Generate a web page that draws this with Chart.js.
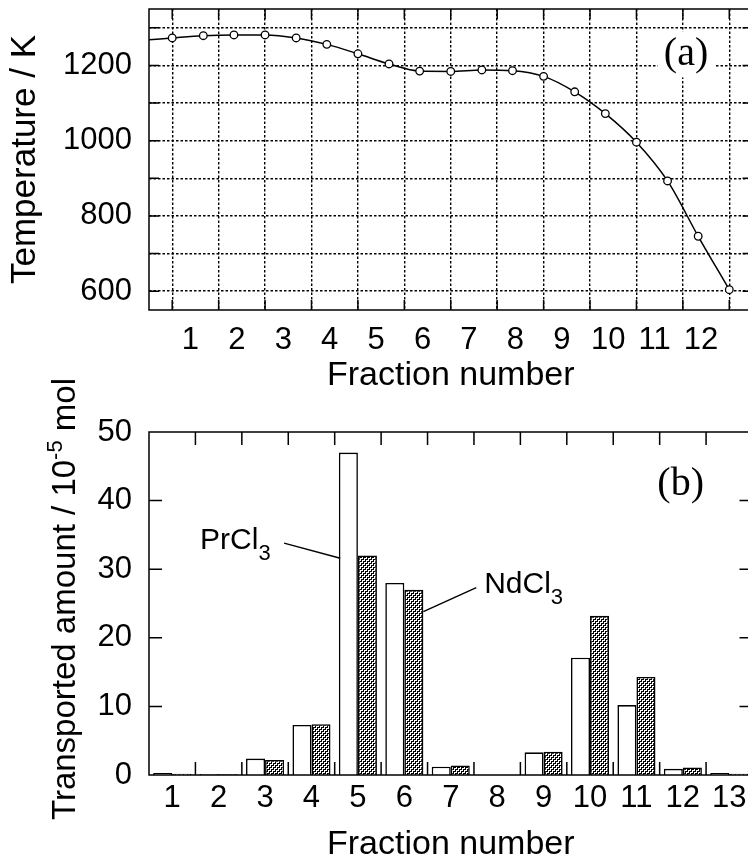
<!DOCTYPE html>
<html>
<head>
<meta charset="utf-8">
<script src="https://cdn.jsdelivr.net/npm/chart.js@4.4.1/dist/chart.umd.min.js"></script>
<style>
  html, body { margin: 0; padding: 0; background: #fff; overflow: hidden; width: 748px; height: 863px; }
  .panel { position: absolute; left: 0; }
</style>
</head>
<body>
<div class="panel" style="top:0"><canvas id="temp-chart" width="760" height="400"></canvas></div>
<div class="panel" style="top:360px"><canvas id="amount-chart" width="760" height="503"></canvas></div>
<script>
// (a) temperature profile, x in fraction-number units
const tempPos = [-0.5, 0, 0.67, 1.33, 2, 2.67, 3.33, 4, 4.67, 5.33, 6, 6.67, 7.33, 8, 8.67, 9.33, 10, 10.67, 11.33, 12];
const tempK = [1268, 1273, 1279, 1281, 1281, 1273, 1256, 1231, 1204, 1185, 1184, 1188, 1186, 1171, 1130, 1072, 996, 893, 746, 604];
const tempLabels = [600, 800, 1000, 1200];

// (b) transported amounts per fraction, 10^-5 mol
const fractions = ['1', '2', '3', '4', '5', '6', '7', '8', '9', '10', '11', '12', '13'];
const prcl3 = [0.3, 0.15, 2.4, 7.3, 47.0, 28.0, 1.2, 0, 3.3, 17.1, 10.2, 0.9, 0.3];
const ndcl3 = [0.2, 0.1, 2.2, 7.4, 32.0, 27.0, 1.4, 0, 3.4, 23.2, 14.3, 1.1, 0.2];

const SANS = "'Liberation Sans', Arial, Helvetica, sans-serif";
const SERIF = "'Liberation Serif', 'Times New Roman', serif";

function stipple() {
  const c = document.createElement('canvas');
  c.width = 4; c.height = 4;
  const g = c.getContext('2d');
  g.fillStyle = '#fff';
  g.fillRect(0, 0, 4, 4);
  g.fillStyle = '#000';
  for (let y = 0; y < 4; y++) {
    for (let x = 0; x < 4; x++) {
      if (((x >> 1) + (y >> 1)) % 2 === 0) g.fillRect(x, y, 1, 1);
    }
  }
  g.fillStyle = '#fff';
  g.fillRect(0, 0, 1, 1);
  g.fillRect(2, 2, 1, 1);
  g.fillStyle = '#000';
  g.fillRect(3, 1, 1, 1);
  g.fillRect(1, 3, 1, 1);
  return g.createPattern(c, 'repeat');
}

// box round the plot plus short inward tick marks
const frame = {
  id: 'frame',
  afterDatasetsDraw(chart, args, opts) {
    const { ctx, chartArea: a, scales } = chart;
    ctx.save();
    ctx.strokeStyle = '#000';
    ctx.lineWidth = 1.5;
    ctx.setLineDash([]);
    ctx.beginPath();
    opts.xMarks.forEach(v => {
      const x = scales.x.getPixelForValue(v);
      ctx.moveTo(x, a.top); ctx.lineTo(x, a.top + opts.len);
      ctx.moveTo(x, a.bottom); ctx.lineTo(x, a.bottom - opts.len);
    });
    opts.yMarks.forEach(v => {
      const y = scales.y.getPixelForValue(v);
      ctx.moveTo(a.left, y); ctx.lineTo(a.left + opts.len, y);
      ctx.moveTo(a.right, y); ctx.lineTo(a.right - opts.len, y);
    });
    ctx.stroke();
    ctx.strokeRect(a.left, a.top, a.right - a.left, a.bottom - a.top);
    ctx.restore();
  }
};

// panel letter, and labels with a subscript
const notes = {
  id: 'notes',
  afterDraw(chart, args, opts) {
    const { ctx, scales } = chart;
    ctx.save();
    if (opts.panel) {
      const p = opts.panel;
      const x = scales.x.getPixelForValue(p.at[0]);
      const y = scales.y.getPixelForValue(p.at[1]);
      ctx.font = '40px ' + SERIF;
      const w = ctx.measureText(p.text).width;
      if (p.clear) {
        ctx.fillStyle = '#fff';
        ctx.fillRect(x - 6, y - 34, w + 12, 46);
      }
      ctx.fillStyle = '#000';
      ctx.textBaseline = 'alphabetic';
      ctx.fillText(p.text, x, y);
    }
    (opts.labels || []).forEach(l => {
      const x = scales.x.getPixelForValue(l.at[0]);
      const y = scales.y.getPixelForValue(l.at[1]);
      ctx.fillStyle = '#000';
      ctx.font = '30px ' + SANS;
      ctx.fillText(l.text, x, y);
      const w = ctx.measureText(l.text).width;
      ctx.font = '22px ' + SANS;
      ctx.fillText(l.sub, x + w, y + 11);
      ctx.beginPath();
      ctx.lineWidth = 1.4;
      ctx.strokeStyle = '#000';
      ctx.moveTo(scales.x.getPixelForValue(l.line[0][0]), scales.y.getPixelForValue(l.line[0][1]));
      ctx.lineTo(scales.x.getPixelForValue(l.line[1][0]), scales.y.getPixelForValue(l.line[1][1]));
      ctx.stroke();
    });
    if (opts.yTitle) {
      // rotated axis title with a superscript
      const t = opts.yTitle;
      ctx.translate(t.x, t.y);
      ctx.rotate(-Math.PI / 2);
      ctx.fillStyle = '#000';
      ctx.textBaseline = 'alphabetic';
      ctx.font = t.size + 'px ' + SANS;
      const w1 = ctx.measureText(t.before).width;
      const w3 = ctx.measureText(t.after).width;
      ctx.font = t.supSize + 'px ' + SANS;
      const w2 = ctx.measureText(t.sup).width;
      let x = -(w1 + w2 + w3) / 2;
      ctx.font = t.size + 'px ' + SANS;
      ctx.fillText(t.before, x, 0);
      x += w1;
      ctx.font = t.supSize + 'px ' + SANS;
      ctx.fillText(t.sup, x, -13);
      x += w2;
      ctx.font = t.size + 'px ' + SANS;
      ctx.fillText(t.after, x, 0);
    }
    ctx.restore();
  }
};

const tickFont = { family: SANS, size: 31 };
const titleFont = { family: SANS, size: 34, lineHeight: 1 };

// ---------- (a) temperature ----------
new Chart(document.getElementById('temp-chart'), {
  type: 'line',
  data: {
    datasets: [{
      data: tempPos.map((x, i) => ({ x: x, y: tempK[i] })),
      borderColor: '#000',
      borderWidth: 1.5,
      cubicInterpolationMode: 'monotone',
      pointRadius: ctx => ctx.dataIndex === 0 ? 0 : 3.8,
      pointBackgroundColor: '#fff',
      pointBorderColor: '#000',
      pointBorderWidth: 1.3
    }]
  },
  options: {
    responsive: false,
    animation: false,
    layout: { padding: { left: 0, top: 9, right: 7.5, bottom: 0 } },
    plugins: {
      legend: { display: false },
      tooltip: { enabled: false },
      frame: { len: 10, xMarks: [0, 1, 2, 3, 4, 5, 6, 7, 8, 9, 10, 11, 12], yMarks: [600, 700, 800, 900, 1000, 1100, 1200, 1300] },
      notes: { panel: { text: '(a)', at: [10.59, 1200], clear: true } }
    },
    scales: {
      x: {
        type: 'linear',
        min: -0.5,
        max: 12.5,
        afterBuildTicks: s => {
          const t = [];
          for (let v = -0.5; v <= 12.5; v += 0.5) t.push({ value: v });
          s.ticks = t;
        },
        afterFit: s => { s.height = 90; s.paddingLeft = 0; s.paddingRight = 0; },
        border: { display: false, dash: [2.5, 2] },
        grid: {
          drawTicks: false,
          lineWidth: 1.4,
          color: c => (Number.isInteger(c.tick.value) ? '#000' : 'rgba(0,0,0,0)')
        },
        ticks: {
          autoSkip: false,
          maxRotation: 0,
          padding: 12,
          labelOffset: -5,
          color: '#000',
          font: tickFont,
          callback: v => (v > 0 && v < 12 && Number.isInteger(v + 0.5) ? String(v + 0.5) : '')
        },
        title: { display: true, text: 'Fraction number', color: '#000', font: titleFont, padding: { top: 0, bottom: 7 } }
      },
      y: {
        min: 550,
        max: 1350,
        afterBuildTicks: s => {
          s.ticks = [550, 600, 700, 800, 900, 1000, 1100, 1200, 1300, 1350].map(v => ({ value: v }));
        },
        afterFit: s => { s.width = 149; s.paddingTop = 0; s.paddingBottom = 0; },
        border: { display: false, dash: [2.5, 2] },
        grid: {
          drawTicks: false,
          lineWidth: 1.4,
          color: c => (c.tick.value % 100 === 0 ? '#000' : 'rgba(0,0,0,0)')
        },
        ticks: {
          autoSkip: false,
          padding: 17,
          color: '#000',
          font: tickFont,
          callback: v => (tempLabels.includes(v) ? String(v) : '')
        },
        title: { display: true, text: 'Temperature / K', color: '#000', font: { family: SANS, size: 35, lineHeight: 1 }, padding: { top: 8, bottom: 0 } }
      }
    }
  },
  plugins: [frame, notes]
});

// ---------- (b) transported amounts ----------
new Chart(document.getElementById('amount-chart'), {
  type: 'bar',
  data: {
    labels: fractions,
    datasets: [
      { label: 'PrCl3', data: prcl3, backgroundColor: '#fff', borderColor: '#000', borderWidth: 1.6 },
      { label: 'NdCl3', data: ndcl3, backgroundColor: stipple(), borderColor: '#000', borderWidth: 1.6 }
    ]
  },
  options: {
    responsive: false,
    animation: false,
    layout: { padding: { left: 0, top: 72, right: 7.5, bottom: 0 } },
    datasets: { bar: { categoryPercentage: 0.82, barPercentage: 1 } },
    plugins: {
      legend: { display: false },
      tooltip: { enabled: false },
      frame: { len: 13, xMarks: [0.5, 1.5, 2.5, 3.5, 4.5, 5.5, 6.5, 7.5, 8.5, 9.5, 10.5, 11.5], yMarks: [10, 20, 30, 40] },
      notes: {
        panel: { text: '(b)', at: [10.45, 40.8], clear: false },
        labels: [
          { text: 'PrCl', sub: '3', at: [0.6, 32.9], line: [[2.41, 33.8], [3.62, 31.6]] },
          { text: 'NdCl', sub: '3', at: [6.72, 26.5], line: [[6.55, 27.3], [5.41, 23.8]] }
        ],
        yTitle: { x: 75, y: 239, size: 33, supSize: 22, before: 'Transported amount / 10', sup: '-5', after: ' mol' }
      }
    },
    scales: {
      x: {
        afterFit: s => { s.height = 88; s.paddingLeft = 0; s.paddingRight = 0; },
        border: { display: false },
        grid: { display: false },
        ticks: { autoSkip: false, maxRotation: 0, padding: -3, color: '#000', font: tickFont },
        title: { display: true, text: 'Fraction number', color: '#000', font: titleFont, padding: { top: 0, bottom: 1 } }
      },
      y: {
        min: 0,
        max: 50,
        afterFit: s => { s.width = 149; s.paddingTop = 0; s.paddingBottom = 0; },
        border: { display: false },
        grid: { display: false, drawTicks: false },
        ticks: { stepSize: 10, padding: 17, color: '#000', font: tickFont }
      }
    }
  },
  plugins: [frame, notes]
});
</script>
</body>
</html>
